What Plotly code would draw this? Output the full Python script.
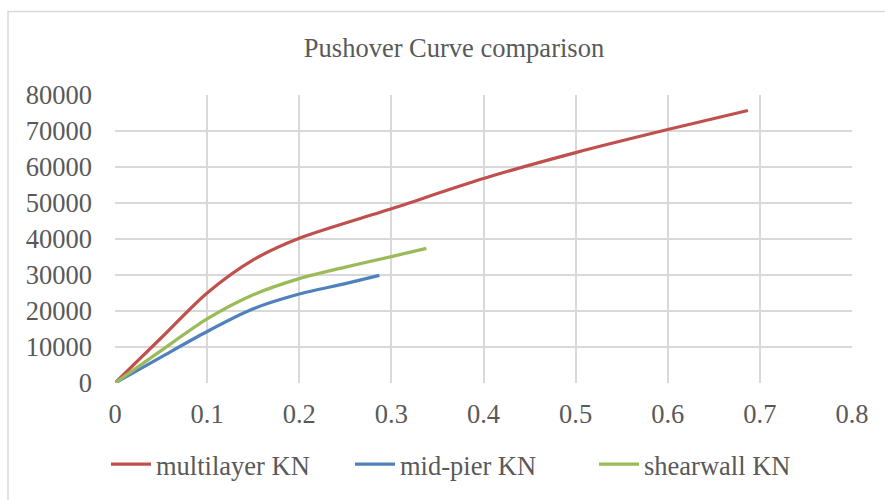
import plotly.graph_objects as go

# Data
multilayer_x = [0, 0.05, 0.1, 0.15, 0.2, 0.3, 0.4, 0.5, 0.6, 0.687]
multilayer_y = [0, 12500, 25000, 34200, 40200, 48400, 56800, 64000, 70400, 75700]

midpier_x = [0, 0.05, 0.1, 0.15, 0.2, 0.25, 0.287]
midpier_y = [0, 7200, 14300, 20600, 24700, 27600, 29900]

shearwall_x = [0, 0.05, 0.1, 0.15, 0.2, 0.25, 0.3, 0.338]
shearwall_y = [0, 9000, 17800, 24500, 29000, 32200, 35100, 37400]

series_names = ["multilayer KN", "mid-pier KN", "shearwall KN"]
series_colors = ["#C0504D", "#4F81BD", "#9BBB59"]

x_ticks = [0, 0.1, 0.2, 0.3, 0.4, 0.5, 0.6, 0.7, 0.8]
x_tick_labels = ["0", "0.1", "0.2", "0.3", "0.4", "0.5", "0.6", "0.7", "0.8"]
y_ticks = [0, 10000, 20000, 30000, 40000, 50000, 60000, 70000, 80000]
y_tick_labels = [str(v) for v in y_ticks]

FONT = "Liberation Serif, Times New Roman, serif"
TXT = "#595959"
GRID = "#D9D9D9"
FS = 26.5

fig = go.Figure()
for xs, ys, name, color in zip(
    [multilayer_x, midpier_x, shearwall_x],
    [multilayer_y, midpier_y, shearwall_y],
    series_names, series_colors,
):
    fig.add_trace(go.Scatter(
        x=xs, y=ys, name=name, mode="lines",
        line=dict(color=color, width=3.2, shape="spline", smoothing=0.8),
    ))

L, R, T, B = 115, 33, 95, 115
W, H = 885, 500
pw = W - L - R
ph = H - T - B

fig.update_layout(
    width=W, height=H,
    margin=dict(l=L, r=R, t=T, b=B, pad=0),
    paper_bgcolor="white", plot_bgcolor="white",
    font=dict(family=FONT, color=TXT, size=FS),
    title=dict(text="Pushover Curve comparison", x=454 / W, xanchor="center",
               y=1 - 48 / H, yanchor="middle",
               font=dict(family=FONT, size=FS, color=TXT)),
    showlegend=True,
    legend=dict(orientation="h", x=(106 - L) / pw, xanchor="left",
                y=(H - B - 467) / ph, yanchor="middle",
                font=dict(family=FONT, size=FS, color=TXT),
                bgcolor="rgba(0,0,0,0)", itemwidth=40,
                entrywidth=189, entrywidthmode="pixels"),
    xaxis=dict(range=[0, 0.8], tickvals=x_ticks, ticktext=x_tick_labels,
               showgrid=True, gridcolor=GRID, gridwidth=1.5,
               zeroline=False, showline=False, ticks="", ticklabelstandoff=12,
               tickfont=dict(family=FONT, size=FS, color=TXT), fixedrange=True),
    yaxis=dict(range=[0, 80000], tickvals=y_ticks, ticktext=y_tick_labels,
               showgrid=True, gridcolor=GRID, gridwidth=1.5,
               zeroline=False, showline=False, ticks="", ticklabelstandoff=22,
               tickfont=dict(family=FONT, size=FS, color=TXT), fixedrange=True),
)

# chart-area border
fig.add_shape(type="rect", xref="paper", yref="paper",
              x0=(8 - L) / pw, x1=(892 - L) / pw,
              y0=(H - B - 510) / ph, y1=(H - B - 11) / ph,
              line=dict(color=GRID, width=1.5), fillcolor="rgba(0,0,0,0)", layer="below")

fig.write_html("out.html")
